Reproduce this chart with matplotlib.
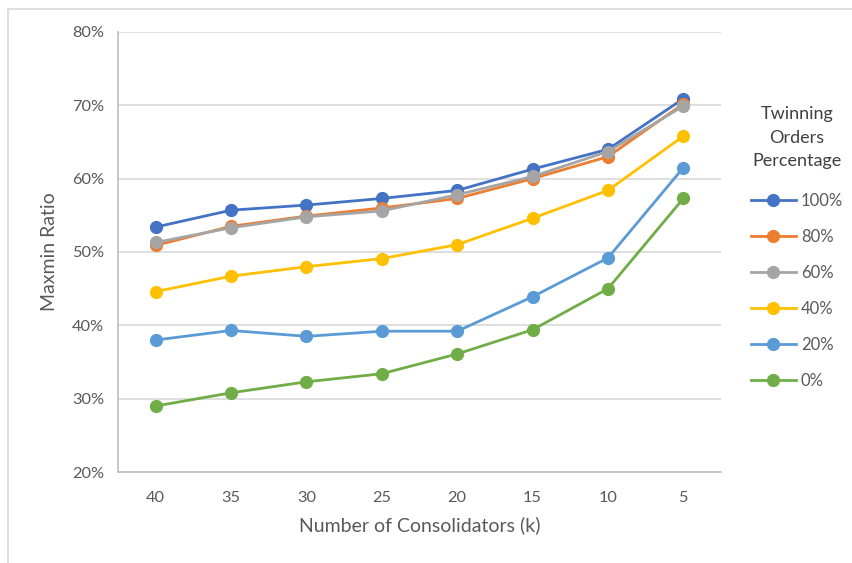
import matplotlib.pyplot as plt
from matplotlib.patches import Rectangle
from matplotlib.ticker import PercentFormatter

plt.rcParams['font.family'] = ['Lato', 'DejaVu Sans']

consolidators = ['40', '35', '30', '25', '20', '15', '10', '5']
labels = ['100%', '80%', '60%', '40%', '20%', '0%']
colors = ['#4472C4', '#ED7D31', '#A5A5A5', '#FFC000', '#5B9BD5', '#70AD47']

p100 = [0.534, 0.557, 0.564, 0.573, 0.584, 0.613, 0.640, 0.709]
p80 = [0.509, 0.535, 0.549, 0.560, 0.573, 0.600, 0.630, 0.702]
p60 = [0.513, 0.533, 0.548, 0.556, 0.578, 0.603, 0.637, 0.699]
p40 = [0.446, 0.467, 0.480, 0.491, 0.510, 0.546, 0.584, 0.658]
p20 = [0.380, 0.393, 0.385, 0.392, 0.392, 0.439, 0.492, 0.615]
p0 = [0.290, 0.308, 0.323, 0.334, 0.361, 0.394, 0.450, 0.573]
series = [p100, p80, p60, p40, p20, p0]

fig = plt.figure(figsize=(8.53, 5.63), dpi=100)
ax = fig.add_axes([0.1383, 0.1616, 0.707, 0.7816])

# outer chart-area border (only top and left edges fall inside the image)
fig.patches.append(Rectangle((8 / 853, -0.1), 1.2, (563 - 9) / 563 + 0.1,
                             transform=fig.transFigure, fill=False,
                             edgecolor='#D9D9D9', linewidth=1.2))

x = range(len(consolidators))
for vals, lab, col in zip(series, labels, colors):
    ax.plot(x, vals, color=col, linewidth=2.0, marker='o', markersize=8.5,
            label=lab)

ax.set_xlim(-0.5, len(consolidators) - 0.5)
ax.set_ylim(0.2, 0.8)
ax.set_yticks([0.2, 0.3, 0.4, 0.5, 0.6, 0.7, 0.8])
ax.yaxis.set_major_formatter(PercentFormatter(1.0, decimals=0))
ax.set_xticks(list(x))
ax.set_xticklabels(consolidators)
ax.grid(axis='y', color='#D9D9D9', linewidth=1.2)
ax.set_axisbelow(True)
for side in ['top', 'right']:
    ax.spines[side].set_visible(False)
for side in ['left', 'bottom']:
    ax.spines[side].set_color('#BFBFBF')
    ax.spines[side].set_linewidth(1.2)
ax.tick_params(length=0, labelsize=11.8, colors='#595959', pad=10)
ax.tick_params(axis='x', pad=14)

ax.set_xlabel('Number of Consolidators (k)', fontsize=14, color='#595959',
              labelpad=8)
ax.set_ylabel('Maxmin Ratio', fontsize=14, color='#595959', labelpad=10)

leg = fig.legend(loc='upper center', bbox_to_anchor=(797 / 853, 1 - 91 / 563),
                 frameon=False, title='Twinning\nOrders\nPercentage',
                 fontsize=12, title_fontsize=13, handlelength=2.7,
                 handletextpad=0.3, labelspacing=1.2)
leg.get_title().set_multialignment('center')
leg.get_title().set_linespacing(1.58)
leg.get_title().set_color('#404040')
for t in leg.get_texts():
    t.set_color('#595959')
leg._legend_box.sep = 17

fig.savefig('out.png', dpi=100)
